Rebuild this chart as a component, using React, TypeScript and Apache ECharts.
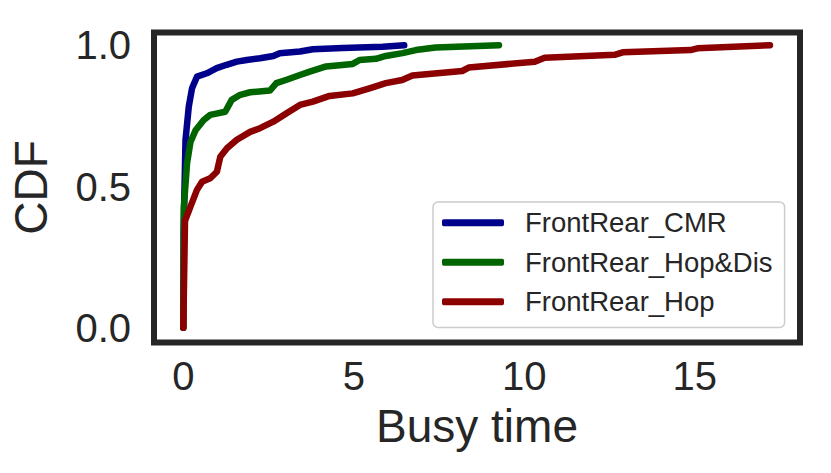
import React, { useEffect, useRef } from "react";
import * as echarts from "echarts";

const seriesNames = ["FrontRear_CMR", "FrontRear_Hop&Dis", "FrontRear_Hop"];
const seriesColors = ["#00008b", "#006400", "#8b0000"];

const cmrX = [0, 0.01, 0.064, 0.16, 0.256, 0.4, 0.69, 0.98, 1.27, 1.57, 1.86, 2.25, 2.64, 2.83, 3.42, 3.8, 4.68, 5.85, 6.48];
const cmrY = [0.002, 0.35, 0.665, 0.783, 0.848, 0.889, 0.901, 0.919, 0.931, 0.942, 0.948, 0.954, 0.962, 0.972, 0.978, 0.986, 0.99, 0.995, 1.0];

const hopDisX = [0, 0.015, 0.11, 0.21, 0.36, 0.6, 0.79, 1.23, 1.42, 1.67, 1.96, 2.54, 2.73, 3.03, 3.42, 3.71, 4.19, 4.97, 5.17, 5.65, 5.94, 6.43, 6.82, 7.4, 9.26];
const hopDisY = [0.002, 0.427, 0.583, 0.658, 0.7, 0.736, 0.754, 0.765, 0.807, 0.825, 0.834, 0.84, 0.866, 0.878, 0.895, 0.907, 0.925, 0.934, 0.948, 0.952, 0.962, 0.972, 0.983, 0.992, 1.0];

const hopX = [0, 0.05, 0.21, 0.4, 0.55, 0.79, 0.985, 1.085, 1.28, 1.57, 1.96, 2.25, 2.64, 3.03, 3.42, 3.8, 4.29, 4.97, 5.46, 5.94, 6.42, 6.72, 8.18, 8.37, 10.31, 10.6, 12.65, 12.89, 14.88, 15.08, 17.21];
const hopY = [0.002, 0.38, 0.43, 0.489, 0.518, 0.53, 0.553, 0.606, 0.636, 0.666, 0.694, 0.707, 0.73, 0.76, 0.789, 0.801, 0.821, 0.83, 0.848, 0.866, 0.877, 0.893, 0.909, 0.921, 0.942, 0.956, 0.966, 0.975, 0.983, 0.989, 1.0];

const xTicks = [0, 5, 10, 15];
const yTicks = [0, 0.5, 1.0];

const FONT = "'Liberation Sans', Arial, sans-serif";
const TEXT = "#262626";

export default function App() {
  const ref = useRef<HTMLDivElement>(null);
  useEffect(() => {
    if (!ref.current) return;
    const chart = echarts.init(ref.current, null, { renderer: "svg" });
    const xs = [cmrX, hopDisX, hopX];
    const ys = [cmrY, hopDisY, hopY];
    const series = seriesNames.map((name, i) => ({
      name,
      type: "line",
      showSymbol: false,
      symbol: "none",
      data: xs[i].map((x, j) => [x, ys[i][j]]),
      lineStyle: { color: seriesColors[i], width: 6.5, cap: "round", join: "round" },
      itemStyle: { color: seriesColors[i] },
      z: 2 + i,
    }));
    chart.setOption({
      animation: false,
      backgroundColor: "#ffffff",
      textStyle: { fontFamily: FONT },
      grid: {
        show: true,
        left: 150,
        top: 32.5,
        right: 31,
        bottom: 130.5,
        borderColor: "#262626",
        borderWidth: 6,
        backgroundColor: "transparent",
        containLabel: false,
      },
      xAxis: {
        type: "value",
        min: -0.86,
        max: 18.09,
        name: "Busy time",
        nameLocation: "middle",
        nameGap: 60,
        nameTextStyle: { fontSize: 46, color: TEXT, fontFamily: FONT },
        axisLine: { show: false },
        axisTick: { show: false },
        splitLine: { show: false },
        axisLabel: {
          customValues: xTicks,
          fontSize: 40,
          color: TEXT,
          fontFamily: FONT,
          margin: 13,
          formatter: (v: number) => String(v),
        },
      },
      yAxis: {
        type: "value",
        min: -0.05,
        max: 1.045,
        name: "CDF",
        nameLocation: "middle",
        nameRotate: 90,
        nameGap: 100,
        nameTextStyle: { fontSize: 46, color: TEXT, fontFamily: FONT },
        axisLine: { show: false },
        axisTick: { show: false },
        splitLine: { show: false },
        axisLabel: {
          customValues: yTicks,
          fontSize: 40,
          color: TEXT,
          fontFamily: FONT,
          margin: 23,
          formatter: (v: number) => v.toFixed(1),
        },
      },
      legend: {
        orient: "vertical",
        left: 433,
        top: 202,
        padding: [1, 12, 6, 9],
        itemGap: 0,
        itemWidth: 62,
        itemHeight: 7,
        icon: "roundRect",
        backgroundColor: "#ffffff",
        borderColor: "#cccccc",
        borderWidth: 1.5,
        borderRadius: 5,
        data: seriesNames,
        textStyle: {
          fontSize: 27.5,
          color: TEXT,
          fontFamily: FONT,
          lineHeight: 39.5,
          padding: [0, 0, 0, 16],
        },
      },
      series,
    });
    return () => chart.dispose();
  }, []);
  return (
    <div
      ref={ref}
      style={{ position: "fixed", left: 0, top: 0, width: 831, height: 473 }}
    />
  );
}
